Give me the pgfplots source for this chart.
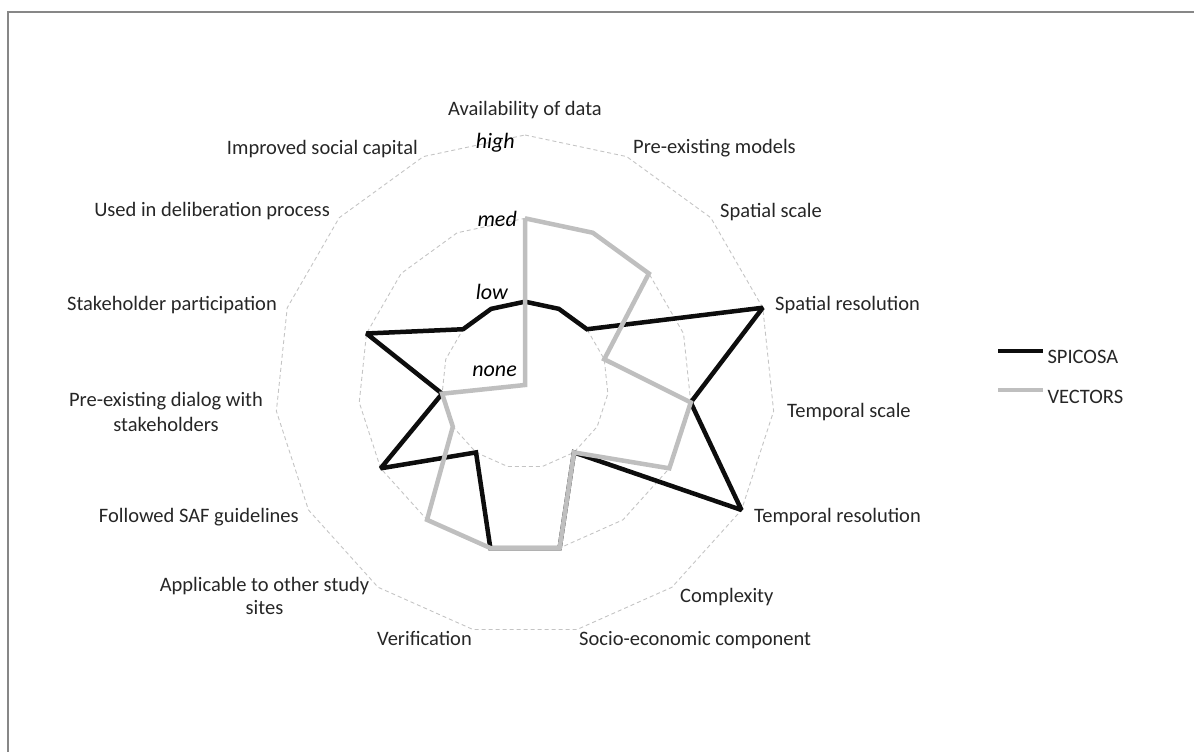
\documentclass[border=0pt]{standalone}
\usepackage{fontspec}
\setmainfont{Carlito}
\usepackage{pgfplots}
\pgfplotsset{compat=1.18}
\usepgfplotslibrary{polar}
\definecolor{spicosa}{HTML}{0D0D0D}
\definecolor{vectors}{HTML}{BFBFBF}
\definecolor{gridc}{HTML}{C4C4C4}
\definecolor{framec}{HTML}{878787}
\definecolor{txt}{HTML}{262626}
\newcommand{\lab}{\fontsize{20.5}{24}\selectfont}
\begin{document}
\begin{tikzpicture}[x=1pt,y=1pt]
\path[use as bounding box] (0,0) rectangle (1194,752);
\draw[framec, line width=2pt] (8,-30) -- (8,740) -- (1230,740);

% angles: Availability of data = 90, then clockwise in steps of 24 degrees
\begin{polaraxis}[
  at={(525pt,367pt)}, anchor=center,
  scale only axis, width=500pt, height=500pt,
  xmin=0, xmax=360, ymin=0, ymax=3,
  hide axis, clip=false,
  legend style={draw=none, fill=none,
    at={(axis description cs:1.442,0.518)}, anchor=west,
    font=\lab, text=txt, inner sep=0pt, outer sep=0pt,
    row sep=24pt, column sep=2pt,
    nodes={inner sep=0pt, text height=13pt, text depth=0pt}},
  legend cell align=left,
  legend image code/.code={\draw[#1] (0pt,6.5pt) -- (45pt,6.5pt);},
]
% rings: low, med, high
\pgfplotsinvokeforeach{1,2,3}{
\addplot[gridc, line width=0.9pt, dash pattern=on 4pt off 3pt, forget plot] coordinates {
  (90,#1) (66,#1) (42,#1) (18,#1) (354,#1) (330,#1) (306,#1) (282,#1)
  (258,#1) (234,#1) (210,#1) (186,#1) (162,#1) (138,#1) (114,#1) (90,#1)};
}
% 0 = none, 1 = low, 2 = med, 3 = high
\addplot[spicosa, line width=4.5pt, line join=miter, miter limit=2] coordinates {
  (90,1)   % Availability of data
  (66,1)   % Pre-existing models
  (42,1)   % Spatial scale
  (18,3)   % Spatial resolution
  (354,2)  % Temporal scale
  (330,3)  % Temporal resolution
  (306,1)  % Complexity
  (282,2)  % Socio-economic component
  (258,2)  % Verification
  (234,1)  % Applicable to other study sites
  (210,2)  % Followed SAF guidelines
  (186,1)  % Pre-existing dialog with stakeholders
  (162,2)  % Stakeholder participation
  (138,1)  % Used in deliberation process
  (114,1)  % Improved social capital
  (90,1)};
\addplot[vectors, line width=4.5pt, line join=miter, miter limit=2] coordinates {
  (90,2) (66,2) (42,2) (18,1) (354,2) (330,2) (306,1) (282,2)
  (258,2) (234,2) (210,1) (186,1) (162,0) (138,0) (114,0) (90,2)};
\legend{SPICOSA, VECTORS}
\end{polaraxis}

% category labels
\begin{scope}[every node/.style={font=\lab, text=txt, inner sep=0pt}]
\node[anchor=base] at (525,636) {Availability of data};
\node[anchor=base west] at (633,598) {Pre-existing models};
\node[anchor=base west] at (720,534) {Spatial scale};
\node[anchor=base west] at (775,441) {Spatial resolution};
\node[anchor=base west] at (787,334) {Temporal scale};
\node[anchor=base west] at (754,229) {Temporal resolution};
\node[anchor=base west] at (680,149) {Complexity};
\node[anchor=base west] at (579,106) {Socio-economic component};
\node[anchor=base east] at (472,106) {Verification};
\node[align=center, font=\fontsize{20.5}{23}\selectfont] at (264.5,155.7) {Applicable to other study\\sites};
\node[anchor=base east] at (299,229) {Followed SAF guidelines};
\node[align=center, font=\fontsize{20.5}{25}\selectfont] at (166,339.7) {Pre-existing dialog with\\stakeholders};
\node[anchor=base east] at (277,441) {Stakeholder participation};
\node[anchor=base east] at (330,535) {Used in deliberation process};
\node[anchor=base east] at (418,597) {Improved social capital};
\end{scope}
% value labels
\begin{scope}[every node/.style={font=\fontsize{22}{26}\selectfont\itshape, text=black, inner sep=0pt}]
\node[anchor=base east] at (515,603) {high};
\node[anchor=base east] at (517,525) {med};
\node[anchor=base east] at (508,452) {low};
\node[anchor=base east] at (517,375) {none};
\end{scope}
\end{tikzpicture}
\end{document}
